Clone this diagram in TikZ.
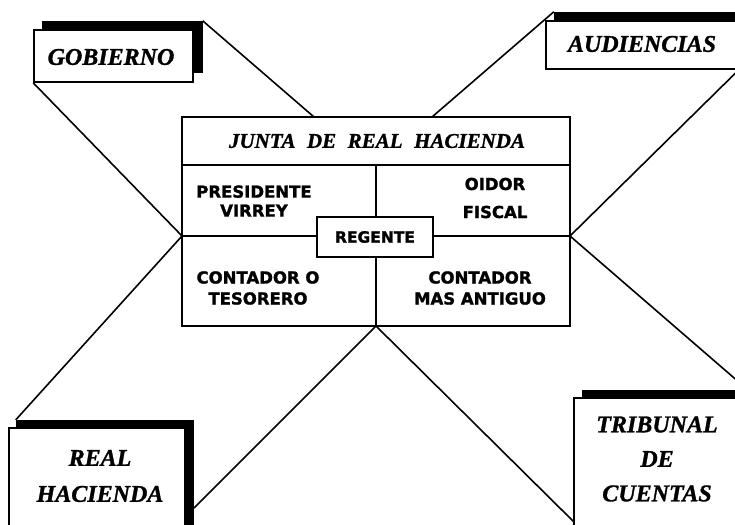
\documentclass[tikz,border=0pt]{standalone}
\usepackage{fontspec}
\setmainfont{Liberation Serif}[BoldItalicFeatures={FakeBold=1.2}]
\newfontfamily\dvs{DejaVu Sans}[BoldFeatures={FakeBold=1.5}]
\begin{document}
\begin{tikzpicture}[x=1pt,y=-1pt,
  ln/.style={line width=1.6pt},
  boxs/.style={draw, line width=1.6pt, fill=white, inner sep=0pt},
  shad/.style={fill=black, inner sep=0pt},
  big/.style={font=\fontsize{24}{36}\selectfont\bfseries\itshape, align=center, inner sep=0pt},
  sm/.style={font=\dvs\bfseries\fontsize{16.5}{20}\selectfont, align=center, inner sep=0pt}
]
\useasboundingbox (0,0) rectangle (735,524);
% central box geometry
\coordinate (jnw) at (182,117);
\coordinate (jse) at (570,326);
\coordinate (jw) at (182,236);
\coordinate (je) at (570,236);
\coordinate (js) at (376,326);
\coordinate (jt1) at (314,117);
\coordinate (jt2) at (432,117);
\coordinate (hl) at (182,165);
\coordinate (hr) at (570,165);
\coordinate (vt) at (376,165);
% free ends of connectors
\coordinate (rhc) at (194,508);
\coordinate (trc) at (748,390);
\coordinate (trb) at (574,522);
% shadows and outer boxes
\node[shad, minimum width=161pt, minimum height=52pt] (gobsh) at (122,47) {};
\node[boxs, minimum width=159pt, minimum height=52pt] (gob) at (113.5,56) {};
\node[shad, minimum width=192pt, minimum height=48pt] (audsh) at (650,36) {};
\node[boxs, minimum width=192pt, minimum height=48pt] (aud) at (642,45) {};
\node[shad, minimum width=178pt, minimum height=112pt] (rhsh) at (105,476) {};
\node[boxs, minimum width=176pt, minimum height=112pt] (rh) at (97,484) {};
\node[shad, minimum width=166pt, minimum height=142pt] (trsh) at (665,461) {};
\node[boxs, minimum width=166pt, minimum height=142pt] (tr) at (657,469) {};
% connectors
\draw[ln] (gobsh.north east) -- (jt1);
\draw[ln] (gob.south west) -- (jw);
\draw[ln] (audsh.north west) -- (jt2);
\draw[ln] (aud.south east) -- (je);
\draw[ln] (rhsh.north west) -- (jw);
\draw[ln] (js) -- (rhc);
\draw[ln] (je) -- (trc);
\draw[ln] (js) -- (trb);
% central box
\draw[ln] (jnw) rectangle (jse);
\draw[ln] (hl) -- (hr);
\draw[ln] (vt) -- (js);
\draw[ln] (jw) -- (je);
\node[boxs, minimum width=116pt, minimum height=40pt, sm, font=\dvs\bfseries\fontsize{15.5}{20}\selectfont] (reg) at (375,237) {REGENTE};
% labels
\node[big] (tgob) at (111,57) {GOBIERNO};
\node[big] (taud) at (642,44) {AUDIENCIAS};
\node[big, font=\fontsize{24}{36}\selectfont\bfseries\itshape] (trh) at (100,476) {REAL\\HACIENDA};
\node[big, font=\fontsize{24}{34.5}\selectfont\bfseries\itshape] (ttr) at (657,459) {TRIBUNAL\\DE\\CUENTAS};
\node[big, font=\fontsize{21}{26}\selectfont\bfseries\itshape] (tjunta) at (377,141) {JUNTA\hspace{0.3em} DE\hspace{0.3em} REAL\hspace{0.3em} HACIENDA};
\node[sm, font=\dvs\bfseries\fontsize{16.5}{19}\selectfont] (tpres) at (254,201) {PRESIDENTE\\VIRREY};
\node[sm, font=\dvs\bfseries\fontsize{16.5}{28}\selectfont] (toid) at (495,198) {OIDOR\\FISCAL};
\node[sm, font=\dvs\bfseries\fontsize{16.5}{21}\selectfont] (tcont) at (258,288) {CONTADOR O\\TESORERO};
\node[sm, font=\dvs\bfseries\fontsize{16.5}{21}\selectfont] (tcma) at (480,288) {CONTADOR\\MAS ANTIGUO};
\end{tikzpicture}
\end{document}
